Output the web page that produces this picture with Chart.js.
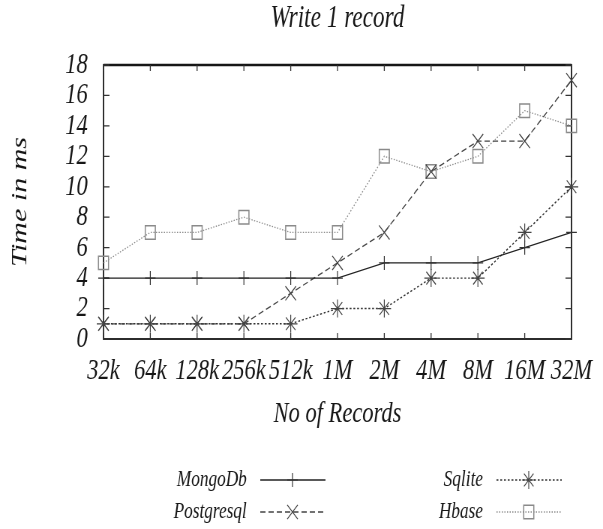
<!DOCTYPE html>
<html><head><meta charset="utf-8">
<script src="https://cdn.jsdelivr.net/npm/chart.js@4/dist/chart.umd.min.js"></script>
<style>
html,body{margin:0;padding:0;background:#fff;overflow:hidden}
#c{display:block;width:603px !important;height:529px !important}
</style></head>
<body>
<canvas id="c" width="804" height="529" style="width:603px;height:529px"></canvas>
<script>
const categories = ['32k','64k','128k','256k','512k','1M','2M','4M','8M','16M','32M'];
const mongoDb    = [4,4,4,4,4,4,5,5,5,6,7];
const postgresql = [1,1,1,1,3,5,7,11,13,13,17];
const sqlite     = [1,1,1,1,1,2,2,4,4,7,10];
const hbase      = [5,7,7,8,7,7,12,11,12,15,14];
const seriesNames = ['MongoDb','Postgresql','Sqlite','Hbase'];
const yTickValues = [0,2,4,6,8,10,12,14,16,18];
const chartTitle = 'Write 1 record';
const xTitle = 'No of Records';
const yTitle = 'Time in ms';

const FONT = "'Liberation Serif', 'Times New Roman', Times, serif";
const ink = '#161616';

const frameTicks = {
  id: 'frameTicks',
  beforeDatasetsDraw(chart) {
    const {ctx, chartArea: a, scales: {x, y}} = chart;
    ctx.save();
    ctx.strokeStyle = ink;
    ctx.lineWidth = 1.8;
    ctx.strokeRect(a.left, a.top, a.right - a.left, a.bottom - a.top);
    ctx.lineWidth = 2.6;
    ctx.beginPath(); ctx.moveTo(a.left, a.top); ctx.lineTo(a.right, a.top); ctx.stroke();
    ctx.lineWidth = 1.3;
    ctx.strokeStyle = '#333';
    ctx.beginPath();
    x.ticks.forEach((t, i) => {
      const px = x.getPixelForTick(i);
      ctx.moveTo(px, a.bottom); ctx.lineTo(px, a.bottom - 6);
      ctx.moveTo(px, a.top); ctx.lineTo(px, a.top + 6);
    });
    y.ticks.forEach(t => {
      const py = y.getPixelForValue(t.value);
      ctx.moveTo(a.left, py); ctx.lineTo(a.left + 8, py);
      ctx.moveTo(a.right, py); ctx.lineTo(a.right - 8, py);
    });
    ctx.stroke();
    ctx.restore();
  }
};

const legendSlots = [
  {ds: 0, textRight: 329, y: 480},
  {ds: 1, textRight: 329, y: 512},
  {ds: 2, textRight: 644, y: 480},
  {ds: 3, textRight: 644, y: 512}
];
const bottomLegend = {
  id: 'bottomLegend',
  afterDraw(chart) {
    const ctx = chart.ctx;
    ctx.save();
    legendSlots.forEach(s => {
      const ds = chart.data.datasets[s.ds];
      ctx.fillStyle = ink;
      ctx.font = "italic 23px " + FONT;
      ctx.textAlign = 'right';
      ctx.textBaseline = 'middle';
      ctx.fillText(ds.label, s.textRight, s.y);
      const x0 = s.textRight + 18, x1 = s.textRight + 105, xm = s.textRight + 61;
      ctx.strokeStyle = ds.borderColor;
      ctx.lineWidth = ds.borderWidth;
      ctx.setLineDash(ds.borderDash || []);
      ctx.beginPath(); ctx.moveTo(x0, s.y); ctx.lineTo(x1, s.y); ctx.stroke();
      ctx.setLineDash([]);
      ctx.strokeStyle = ds.pointBorderColor;
      ctx.fillStyle = 'rgba(0,0,0,0)';
      ctx.lineWidth = ds.pointBorderWidth;
      Chart.helpers.drawPoint(ctx, {pointStyle: ds.pointStyle, rotation: 0, radius: ds.pointRadius, borderWidth: ds.pointBorderWidth}, xm, s.y);
    });
    ctx.restore();
  }
};

new Chart(document.getElementById('c'), {
  type: 'line',
  data: {
    labels: categories,
    datasets: [
      {label: seriesNames[0], data: mongoDb, borderColor: '#222', borderWidth: 1.4, borderDash: [],
       pointStyle: 'cross', pointRadius: 7, pointBorderColor: '#333', pointBorderWidth: 1.2},
      {label: seriesNames[1], data: postgresql, borderColor: '#444', borderWidth: 1.3, borderDash: [7, 4],
       pointStyle: 'crossRot', pointRadius: 10, pointBorderColor: '#444', pointBorderWidth: 1.2},
      {label: seriesNames[2], data: sqlite, borderColor: '#333', borderWidth: 1.4, borderDash: [2.5, 2.5],
       pointStyle: 'star', pointRadius: 9, pointBorderColor: '#444', pointBorderWidth: 1.2},
      {label: seriesNames[3], data: hbase, borderColor: '#8a8a8a', borderWidth: 1.3, borderDash: [1.5, 2],
       pointStyle: 'rect', pointRadius: 9.5, pointBorderColor: '#8a8a8a', pointBorderWidth: 1.5}
    ].map(d => Object.assign({fill: false, tension: 0, clip: false, pointBackgroundColor: 'rgba(0,0,0,0)', pointHoverRadius: d.pointRadius}, d))
  },
  options: {
    responsive: false,
    devicePixelRatio: 1,
    animation: false,
    events: [],
    layout: {padding: {left: 0, right: 36, top: 0, bottom: 97}},
    plugins: {
      legend: {display: false},
      tooltip: {enabled: false},
      title: {display: true, fullSize: false, text: chartTitle, color: ink,
              font: {family: FONT, size: 31, style: 'italic', weight: 'normal'},
              padding: {top: 0, bottom: 27.8}}
    },
    scales: {
      x: {
        type: 'category', offset: false,
        grid: {display: false, drawTicks: false},
        border: {display: false},
        ticks: {autoSkip: false, maxRotation: 0, minRotation: 0, padding: 14.5, color: ink,
                font: {family: FONT, size: 30, style: 'italic'}},
        title: {display: true, text: xTitle, color: ink, padding: {top: 0, bottom: 0},
                font: {family: FONT, size: 30, style: 'italic'}},
        afterFit(s) { s.height = 93; }
      },
      y: {
        min: 0, max: 18,
        afterBuildTicks(s) { s.ticks = yTickValues.map(v => ({value: v})); },
        grid: {display: false, drawTicks: false},
        border: {display: false},
        ticks: {autoSkip: false, padding: 21, color: ink, font: {family: FONT, size: 30, style: 'italic'}},
        title: {display: true, text: yTitle, color: ink, padding: {top: 9, bottom: 0},
                font: {family: FONT, size: 30, style: 'italic'}},
        afterFit(s) { s.width = 138; }
      }
    }
  },
  plugins: [frameTicks, bottomLegend]
});
</script>
</body></html>
